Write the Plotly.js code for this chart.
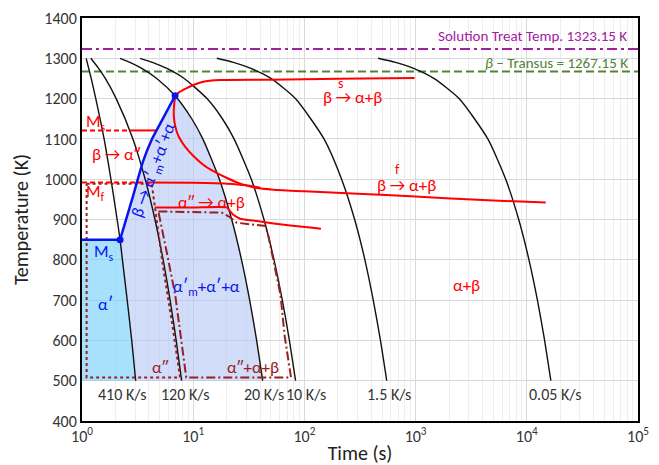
<!DOCTYPE html>
<html><head><meta charset="utf-8">
<script src="https://cdn.plot.ly/plotly-3.0.1.min.js"></script>
<style>body{margin:0;background:#fff}#chart{width:659px;height:465px}</style>
</head><body><div id="chart"></div>
<script>
// ---- data ----
const xTickVals = [1, 10, 100, 1000, 10000, 100000];
const xTickText = ['10<sup>0</sup>','10<sup>1</sup>','10<sup>2</sup>','10<sup>3</sup>','10<sup>4</sup>','10<sup>5</sup>'];
const solutionTemp = 1323.15;
const betaTransus = 1267.15;

// cooling curves (time s, temperature K)
const c410Time = [1.09,1.21,1.33,1.58,1.82,2.07,2.2,2.31,2.55,2.8,3.04];
const c410T    = [1300,1250,1200,1100,1000,900,850,800,700,600,500];
const c120Time = [1.2,1.41,1.62,2.03,2.87,3.7,4.53,5.37,6.2,7.03,7.87];
const c120T    = [1300,1275,1250,1200,1100,1000,900,800,700,600,500];
const c20Time  = [2.2,2.7,3.45,4.7,6.87,9.7,12.2,17.2,22.2,27.2,32.2,37.2,42.2];
const c20T     = [1300,1290,1275,1250,1207,1150,1100,1000,900,800,700,600,500];
const c10Time  = [3.33,4.3,5.8,8.3,13.3,18.3,23.3,33.3,43.3,53.3,63.3,73.3,83.3];
const c10T     = [1300,1290,1275,1250,1200,1150,1100,1000,900,800,700,600,500];
const c1p5Time = [16.3,23,33,50,83,150,216,283,350,416,483,550];
const c1p5T    = [1300,1290,1275,1250,1200,1100,1000,900,800,700,600,500];
const c005Time = [460,660,960,1460,2460,4460,6460,8460,10460,12460,14460,16460];
const c005T    = [1300,1290,1275,1250,1200,1100,1000,900,800,700,600,500];
const rateLabels = ['410 K/s','120 K/s','20 K/s','10 K/s','1.5 K/s','0.05 K/s'];

// blue martensite-start line (Ms point -> upper point)
const blueTime = [2.2, 2.82, 3.54, 4.23, 5.28, 6.87];
const blueT    = [850, 950, 1044, 1098, 1148, 1207];

// red transformation lines
const msT = 1121;
const msDashTime = [1, 2.69];
const msSolidTime = [2.69, 4.71];
const mfT = 992;
const mfDashTime = [1, 3.8];
const mfSolidTime = [3.8, 10, 20, 30, 40];
const mfSolidT    = [992, 991, 989, 985, 979];
const bsTime = [6.87,7.5,8.75,10.3,12.3,17.5,49,200,980];
const bsT    = [1207,1216,1226,1235,1242,1246,1247,1249,1251];
const bfTime = [6.87,6.7,6.7,6.9,7.4,8.45,10.1,12.3,15.2,20.1,26.5,37.5,52.8,100,300,1000,2065,5000,14800];
const bfT    = [1207,1175,1156,1131,1106,1081,1057,1036,1020,1003,989,978,974,970,964,957,952,947,942];
const a2Time = [4.5,10,20.1,20.8,23.1,26.5,37.5,52.8,74.7,113,141];
const a2T    = [930,930,930,925,911,902,896,890,885,880,877];

// dark-red region outlines
const dotTime = [1.1,4.24,4.9,5.4,6.4,7.62,1.1,1.1];
const dotT    = [989,989,860,776,650,508,508,989];
const ddTime  = [4.86,10,18.1,21.6,24.7,32.6,44.6,47.5,52.8,60.9,66.5,75.8,8.66,7.78,6.88,5.77,4.86];
const ddT     = [920,919,917,905,892,888,884,858,797,714,610,508,508,600,714,820,920];

// ---- styling ----
const RED = '#FF0000', BLUE = '#0A14F0', DARKRED = '#962020', PURPLE = '#A0209E', GREEN = '#548235';
const FONT = 'Carlito, Lato, "Open Sans", sans-serif';

// fill polygons built from the curves
const c410Low = c410T.map((t,i)=>[c410Time[i],t]).filter(p=>p[1]<=850);
const c20Low  = c20T.map((t,i)=>[c20Time[i],t]).filter(p=>p[1]<=1207);
const cyanX = [xTickVals[0]].concat(c410Low.map(p=>p[0]), [xTickVals[0]]);
const cyanY = [850].concat(c410Low.map(p=>p[1]), [500]);
const lavX = blueTime.concat(c20Low.map(p=>p[0]), c410Low.slice().reverse().map(p=>p[0]));
const lavY = blueT.concat(c20Low.map(p=>p[1]), c410Low.slice().reverse().map(p=>p[1]));

const traces = [];
traces.push({x: cyanX, y: cyanY, fill:'toself', fillcolor:'rgba(110,205,248,0.6)', line:{width:0}, mode:'lines', hoverinfo:'skip'});
traces.push({x: lavX, y: lavY, fill:'toself', fillcolor:'rgba(178,196,246,0.58)', line:{width:0}, mode:'lines', hoverinfo:'skip'});
traces.push({x:[xTickVals[0], xTickVals[5]], y:[solutionTemp, solutionTemp], mode:'lines', line:{color:PURPLE, width:2, dash:'10px,4px,3px,4px'}});
traces.push({x:[xTickVals[0], xTickVals[5]], y:[betaTransus, betaTransus], mode:'lines', line:{color:GREEN, width:2, dash:'8px,4px'}});
[[c410Time,c410T],[c120Time,c120T],[c20Time,c20T],[c10Time,c10T],[c1p5Time,c1p5T],[c005Time,c005T]].forEach(c=>{
  traces.push({x:c[0], y:c[1], mode:'lines', line:{color:'#111', width:1.4, shape:'spline', smoothing:0.6}});
});
traces.push({x: dotTime, y: dotT, mode:'lines', line:{color:DARKRED, width:2, dash:'dot'}});
traces.push({x: ddTime, y: ddT, mode:'lines', line:{color:DARKRED, width:2, dash:'9px,3px,2px,3px'}});
traces.push({x: msDashTime, y: msDashTime.map(()=>msT), mode:'lines', line:{color:RED, width:2, dash:'5px,3px'}});
traces.push({x: msSolidTime, y: msSolidTime.map(()=>msT), mode:'lines', line:{color:RED, width:2}});
traces.push({x: mfDashTime, y: mfDashTime.map(()=>mfT), mode:'lines', line:{color:RED, width:2, dash:'5px,3px'}});
traces.push({x: mfSolidTime, y: mfSolidT, mode:'lines', line:{color:RED, width:2, shape:'spline', smoothing:0.5}});
traces.push({x: bsTime, y: bsT, mode:'lines', line:{color:RED, width:2, shape:'spline', smoothing:0.6}});
traces.push({x: bfTime, y: bfT, mode:'lines', line:{color:RED, width:2, shape:'spline', smoothing:0.6}});
traces.push({x: a2Time, y: a2T, mode:'lines', line:{color:RED, width:2, shape:'spline', smoothing:0.6}});
traces.push({x:[xTickVals[0], blueTime[0]], y:[blueT[0], blueT[0]], mode:'lines', line:{color:BLUE, width:2.5}});
traces.push({x: blueTime, y: blueT, mode:'lines', line:{color:BLUE, width:2.5, shape:'spline', smoothing:0.5}});
traces.push({x:[blueTime[0], blueTime[blueTime.length-1]], y:[blueT[0], blueT[blueT.length-1]], mode:'markers', marker:{color:BLUE, size:7}});

const L = Math.log10;
function ann(text, x, y, opts){ return Object.assign({text, x:L(x), y, xref:'x', yref:'y', showarrow:false, font:{family:FONT, size:17, color:RED}}, opts||{}); }
const rateX = [c410Time, c120Time, c20Time, c10Time, c1p5Time, c005Time].map(a=>a[a.length-1]);
const rateOff = [0.76, 1.08, 1.02, 1.25, 1.05, 1.1];
const annotations = rateLabels.map((t,i)=>ann(t, rateX[i]*rateOff[i], 466, {font:{family:FONT,size:16,color:'#333'}}));
annotations.push(
  ann('Solution Treat Temp. 1323.15 K', 83000, 1356, {xanchor:'right', font:{family:FONT,size:15,color:PURPLE}}),
  ann('<i>β</i> − Transus = 1267.15 K', 85000, 1289, {xanchor:'right', font:{family:FONT,size:15,color:GREEN}}),
  ann('β → α+β', 268, 1202),
  ann('s', 211, 1237, {font:{family:FONT,size:14,color:RED}}),
  ann('β → α+β', 820, 985),
  ann('f', 684, 1023, {font:{family:FONT,size:14,color:RED}}),
  ann('β → α″', 2.05, 1061),
  ann('M<sub>s</sub>', 1.35, 1140),
  ann('M<sub>f</sub>', 1.32, 968),
  ann('α″ → α+β', 14.5, 942),
  ann('α+β', 2880, 737),
  ann('M<sub>s</sub>', 1.58, 817, {font:{family:FONT,size:17,color:BLUE}}),
  ann('α′', 1.61, 690, {font:{family:FONT,size:17,color:BLUE}}),
  ann('α′<sub>m</sub>+α′+α', 13.1, 732, {font:{family:FONT,size:17,color:BLUE}}),
  ann('β → α′<sub>m</sub>+α′+α', 4.46, 1021, {textangle:-70, font:{family:FONT,size:17,color:BLUE}}),
  ann('α″', 5.05, 534, {font:{family:FONT,size:17,color:DARKRED}}),
  ann('α″+α+β', 34.7, 534, {font:{family:FONT,size:17,color:DARKRED}})
);

const layout = {
  width:659, height:465,
  margin:{l:82, r:21, t:18, b:44},
  paper_bgcolor:'#fff', plot_bgcolor:'#fff',
  showlegend:false,
  font:{family:FONT, color:'#333'},
  xaxis:{type:'log', range:[0,5], tickvals:xTickVals, ticktext:xTickText,
    showgrid:true, gridcolor:'#d9d9d9', gridwidth:1,
    minor:{showgrid:true, gridcolor:'#efefef', dtick:'D1', ticks:''},
    showline:true, mirror:true, linecolor:'#000', linewidth:2, ticks:'', zeroline:false,
    tickfont:{family:FONT, size:16, color:'#333'},
    title:{text:'Time (s)', font:{family:FONT, size:20, color:'#222'}, standoff:5}},
  yaxis:{range:[400,1400], dtick:100, tick0:400,
    showgrid:true, gridcolor:'#d9d9d9', gridwidth:1,
    showline:true, mirror:true, linecolor:'#000', linewidth:2, ticks:'', zeroline:false,
    tickfont:{family:FONT, size:16, color:'#333'},
    title:{text:'Temperature (K)', font:{family:FONT, size:20, color:'#222'}, standoff:10}},
  annotations
};
Plotly.newPlot('chart', traces, layout, {staticPlot:true, displayModeBar:false});
</script></body></html>
